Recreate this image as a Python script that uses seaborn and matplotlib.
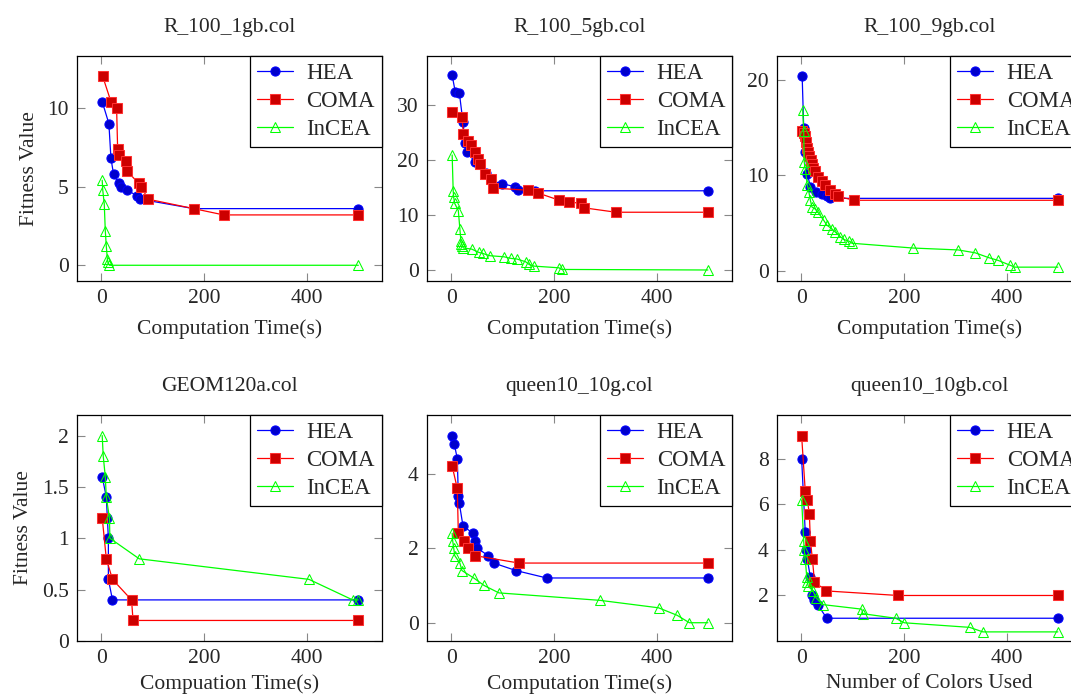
import matplotlib
matplotlib.use("Agg")
import matplotlib.pyplot as plt
import seaborn as sns
import pandas as pd
from matplotlib.ticker import FuncFormatter

# ---------------- data ----------------
titles = ["R_100_1gb.col", "R_100_5gb.col", "R_100_9gb.col",
          "GEOM120a.col", "queen10_10g.col", "queen10_10gb.col"]
xlabels = ["Computation Time(s)", "Computation Time(s)", "Computation Time(s)",
           "Compuation Time(s)", "Computation Time(s)", "Number of Colors Used"]
algorithms = ["HEA", "COMA", "InCEA"]

# R_100_1gb.col
p1_hea_x = [2, 15, 19, 24, 34, 38, 50, 70, 76, 180, 500]
p1_hea_y = [10.4, 9.0, 6.8, 5.8, 5.2, 5.0, 4.8, 4.4, 4.2, 3.6, 3.6]
p1_coma_x = [3, 19, 30, 32, 34, 48, 50, 73, 78, 91, 180, 238, 500]
p1_coma_y = [12.0, 10.4, 10.0, 7.4, 7.0, 6.6, 6.0, 5.2, 5.0, 4.2, 3.6, 3.2, 3.2]
p1_incea_x = [2, 3, 6, 8, 10, 12, 13, 16, 500]
p1_incea_y = [5.4, 4.8, 3.9, 2.2, 1.2, 0.4, 0.2, 0.0, 0.0]

# R_100_5gb.col
p2_hea_x = [2, 8, 16, 23, 27, 31, 47, 67, 77, 100, 125, 130, 163, 500]
p2_hea_y = [35.4, 32.4, 32.2, 26.9, 23.1, 21.4, 19.6, 17.7, 16.2, 15.7, 15.1, 14.6, 14.4, 14.4]
p2_coma_x = [1, 21, 24, 32, 38, 47, 53, 57, 65, 78, 81, 150, 169, 210, 229, 252, 259, 321, 500]
p2_coma_y = [28.8, 27.8, 24.7, 23.4, 22.7, 21.4, 20.2, 19.3, 17.4, 16.6, 14.9, 14.5, 14.0,
             12.7, 12.4, 12.1, 11.3, 10.5, 10.5]
p2_incea_x = [2, 4, 5, 7, 14, 17, 19, 20, 22, 24, 40, 54, 62, 75, 103, 117, 128, 145, 152,
              162, 210, 215, 500]
p2_incea_y = [20.9, 14.4, 13.2, 12.1, 10.8, 7.5, 5.3, 4.8, 4.3, 4.0, 3.8, 3.2, 3.0, 2.6, 2.4,
              2.1, 2.0, 1.5, 1.0, 0.7, 0.4, 0.1, 0.0]

# R_100_9gb.col
p3_hea_x = [2, 5, 8, 12, 18, 28, 40, 50, 57, 500]
p3_hea_y = [20.4, 15.0, 12.5, 10.2, 8.8, 8.3, 8.1, 7.8, 7.6, 7.6]
p3_coma_x = [1, 5, 8, 10, 12, 14, 16, 19, 21, 24, 27, 33, 40, 47, 57, 65, 72, 103, 500]
p3_coma_y = [14.7, 14.4, 14.1, 13.5, 12.9, 12.4, 12.0, 11.6, 11.2, 10.8, 10.5, 9.8, 9.4,
             9.0, 8.5, 8.1, 7.8, 7.4, 7.4]
p3_incea_x = [3, 5, 6, 8, 12, 15, 18, 21, 27, 32, 44, 50, 60, 66, 76, 83, 94, 99, 218, 306,
              339, 365, 384, 407, 416, 500]
p3_incea_y = [16.9, 14.7, 11.4, 10.7, 9.0, 8.3, 7.4, 6.7, 6.5, 6.2, 5.3, 4.8, 4.4, 4.1, 3.6,
              3.3, 3.1, 2.9, 2.4, 2.2, 1.9, 1.4, 1.1, 0.6, 0.4, 0.4]

# GEOM120a.col
p4_hea_x = [2, 10, 12, 14, 14, 22, 500]
p4_hea_y = [1.6, 1.4, 1.2, 1.0, 0.6, 0.4, 0.4]
p4_coma_x = [2, 10, 22, 59, 62, 500]
p4_coma_y = [1.2, 0.8, 0.6, 0.4, 0.2, 0.2]
p4_incea_x = [2, 4, 8, 10, 16, 17, 74, 404, 489, 500]
p4_incea_y = [2.0, 1.8, 1.6, 1.4, 1.2, 1.0, 0.8, 0.6, 0.4, 0.4]

# queen10_10g.col
p5_hea_x = [2, 6, 12, 14, 16, 23, 42, 46, 51, 72, 83, 126, 186, 500]
p5_hea_y = [5.0, 4.8, 4.4, 3.4, 3.2, 2.6, 2.4, 2.2, 2.0, 1.8, 1.6, 1.4, 1.2, 1.2]
p5_coma_x = [2, 12, 14, 25, 33, 46, 132, 500]
p5_coma_y = [4.2, 3.6, 2.4, 2.2, 2.0, 1.8, 1.6, 1.6]
p5_incea_x = [2, 3, 5, 7, 17, 21, 44, 64, 93, 290, 404, 440, 464, 500]
p5_incea_y = [2.4, 2.2, 2.0, 1.8, 1.6, 1.4, 1.2, 1.0, 0.8, 0.6, 0.4, 0.2, 0.0, 0.0]

# queen10_10gb.col
p6_hea_x = [1, 8, 10, 12, 18, 22, 26, 32, 50, 500]
p6_hea_y = [8.0, 4.8, 4.0, 3.6, 2.8, 2.0, 1.8, 1.6, 1.0, 1.0]
p6_coma_x = [1, 8, 12, 16, 18, 22, 26, 49, 189, 500]
p6_coma_y = [9.0, 6.6, 6.2, 5.6, 4.4, 3.6, 2.6, 2.2, 2.0, 2.0]
p6_incea_x = [1, 5, 6, 8, 11, 12, 14, 23, 29, 42, 118, 120, 184, 201, 328, 354, 500]
p6_incea_y = [6.2, 4.4, 4.0, 3.6, 2.8, 2.6, 2.4, 2.2, 1.9, 1.6, 1.4, 1.2, 1.0, 0.8, 0.6, 0.4, 0.4]

yticks = [[0, 5, 10], [0, 10, 20, 30], [0, 10, 20],
          [0, 0.5, 1, 1.5, 2], [0, 2, 4], [2, 4, 6, 8]]
xticks = [0, 200, 400]

panels = [
    (p1_hea_x, p1_hea_y, p1_coma_x, p1_coma_y, p1_incea_x, p1_incea_y),
    (p2_hea_x, p2_hea_y, p2_coma_x, p2_coma_y, p2_incea_x, p2_incea_y),
    (p3_hea_x, p3_hea_y, p3_coma_x, p3_coma_y, p3_incea_x, p3_incea_y),
    (p4_hea_x, p4_hea_y, p4_coma_x, p4_coma_y, p4_incea_x, p4_incea_y),
    (p5_hea_x, p5_hea_y, p5_coma_x, p5_coma_y, p5_incea_x, p5_incea_y),
    (p6_hea_x, p6_hea_y, p6_coma_x, p6_coma_y, p6_incea_x, p6_incea_y),
]

# ---------------- style ----------------
sns.set_style("ticks")
plt.rcParams["font.family"] = ["Liberation Serif", "DejaVu Serif"]
FS = 15.5
LFS = 16.5

styles = {
    "HEA": dict(color="#0000ff", marker="o", markersize=6.6,
                markerfacecolor="#0000cc", markeredgecolor="#0000ff"),
    "COMA": dict(color="#ff0000", marker="s", markersize=6.6,
                 markerfacecolor="#cc0000", markeredgecolor="#ff3030"),
    "InCEA": dict(color="#00ff00", marker="^", markersize=6.6,
                  markerfacecolor="none", markeredgecolor="#00ff00"),
}

W, H = 1071, 697
fig = plt.figure(figsize=(W / 100, H / 100), dpi=100)

# axes boxes in pixels (left, top, right, bottom)
boxes = [
    (77, 56, 382, 281), (427, 56, 732, 281), (777, 56, 1082, 281),
    (77, 415, 382, 641), (427, 415, 732, 641), (777, 415, 1082, 641),
]
xlims = [(-47, 546), (-47, 547), (-47, 547), (-47, 546), (-47, 547), (-47, 547)]
ylims = [(-1.0, 13.3), (-2.0, 38.9), (-1.05, 22.5), (0.0, 2.2), (-0.49, 5.57), (0.0, 9.93)]

fmt = FuncFormatter(lambda v, p: f"{v:g}")

for i, (box, data) in enumerate(zip(boxes, panels)):
    l, t, r, b = box
    ax = fig.add_axes([l / W, 1 - b / H, (r - l) / W, (b - t) / H])
    xs = [data[0], data[2], data[4]]
    ys = [data[1], data[3], data[5]]
    for alg, x, y in zip(algorithms, xs, ys):
        df = pd.DataFrame({"x": x, "y": y})
        sns.lineplot(data=df, x="x", y="y", ax=ax, sort=False, estimator=None,
                     linewidth=0.9, label=alg, **styles[alg])
    ax.set_xlim(*xlims[i])
    ax.set_ylim(*ylims[i])
    ax.set_xticks(xticks)
    ax.set_yticks(yticks[i])
    ax.yaxis.set_major_formatter(fmt)
    ax.tick_params(direction="in", length=5.5, width=0.8, color="#888888",
                   labelsize=FS, top=True, right=True, pad=6)
    for s in ax.spines.values():
        s.set_linewidth(0.9)
        s.set_color("black")
    ax.set_title(titles[i], fontsize=FS, pad=17)
    ax.set_xlabel(xlabels[i], fontsize=FS, labelpad=8 if i < 3 else 4)
    if i % 3 == 0:
        ax.set_ylabel("Fitness Value", fontsize=FS, labelpad=6)
    else:
        ax.set_ylabel("")
    leg = ax.legend(loc="upper right", fontsize=LFS, frameon=True, fancybox=False,
                    edgecolor="black", borderaxespad=0, handlelength=1.55,
                    labelspacing=0.3, borderpad=0.3, handletextpad=0.6)
    leg.get_frame().set_linewidth(0.9)
    leg.get_frame().set_alpha(1)

fig.savefig("out.png", dpi=100)
